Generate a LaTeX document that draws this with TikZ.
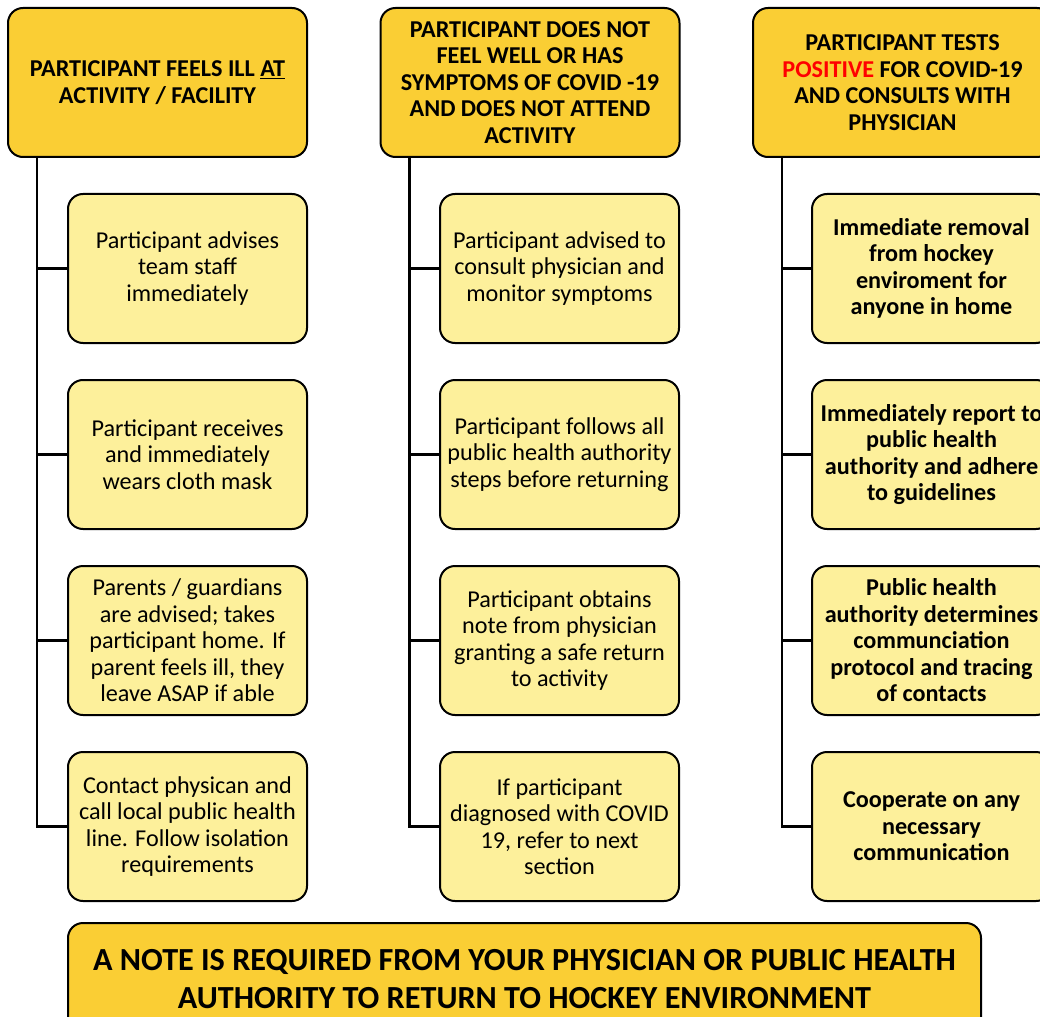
\documentclass[tikz,border=0pt]{standalone}
\usepackage{fontspec}
\setmainfont{Carlito}
\definecolor{hdrfill}{RGB}{250,206,52}
\definecolor{boxfill}{RGB}{253,240,155}
\begin{document}
\begin{tikzpicture}[x=1pt,y=-1pt,
  hdr/.style={draw=black, line width=2pt, rounded corners=15pt, fill=hdrfill,
    minimum width=299pt, minimum height=149pt, align=center, inner sep=0pt,
    font=\fontsize{24.2}{26.5}\selectfont\bfseries},
  item/.style={draw=black, line width=2pt, rounded corners=15pt, fill=boxfill,
    minimum width=239pt, minimum height=149pt, align=center, inner sep=0pt,
    font=\fontsize{24.2}{26.5}\selectfont},
  bitem/.style={item, font=\fontsize{24.2}{26.5}\selectfont\bfseries},
  note/.style={draw=black, line width=2pt, rounded corners=15pt, fill=hdrfill,
    minimum width=913pt, minimum height=112pt, align=center, inner sep=0pt,
    font=\fontsize{32.2}{38}\selectfont\bfseries},
  conn/.style={draw=black, line width=2.2pt}
]
\useasboundingbox (0,0) rectangle (1040,1016);
\clip (0,0) rectangle (1040,1016);

% Column 1
\node[hdr] (h1) at (157.5,82.5) {PARTICIPANT FEELS ILL \underline{AT}\\ACTIVITY / FACILITY};
\node[item] (a1) at (187.5,268.5) {Participant advises\\team staff\\immediately};
\node[item] (a2) at (187.5,454.5) {Participant receives\\and immediately\\wears cloth mask};
\node[item] (a3) at (187.5,640.5) {Parents / guardians\\are advised; takes\\participant home. If\\parent feels ill, they\\leave ASAP if able};
\node[item] (a4) at (187.5,826.5) {Contact physican and\\call local public health\\line. Follow isolation\\requirements};

% Column 2
\node[hdr] (h2) at (530,82.5) {PARTICIPANT DOES NOT\\FEEL WELL OR HAS\\SYMPTOMS OF COVID -19\\AND DOES NOT ATTEND\\ACTIVITY};
\node[item] (b1) at (559.5,268.5) {Participant advised to\\consult physician and\\monitor symptoms};
\node[item] (b2) at (559.5,454.5) {Participant follows all\\public health authority\\steps before returning};
\node[item] (b3) at (559.5,640.5) {Participant obtains\\note from physician\\granting a safe return\\to activity};
\node[item] (b4) at (559.5,826.5) {If participant\\diagnosed with COVID\\19, refer to next\\section};

% Column 3
\node[hdr] (h3) at (902.5,82.5) {PARTICIPANT TESTS\\\textcolor{red}{POSITIVE} FOR COVID-19\\AND CONSULTS WITH\\PHYSICIAN};
\node[bitem] (c1) at (931.5,268.5) {Immediate removal\\from hockey\\enviroment for\\anyone in home};
\node[bitem] (c2) at (931.5,454.5) {Immediately report to\\public health\\authority and adhere\\to guidelines};
\node[bitem] (c3) at (931.5,640.5) {Public health\\authority determines\\communciation\\protocol and tracing\\of contacts};
\node[bitem] (c4) at (931.5,826.5) {Cooperate on any\\necessary\\communication};

% Bottom note
\node[note] (n) at (524.5,979) {A NOTE IS REQUIRED FROM YOUR PHYSICIAN OR PUBLIC HEALTH\\AUTHORITY TO RETURN TO HOCKEY ENVIRONMENT};

% Connectors
\foreach \h/\c in {h1/a1,h1/a2,h1/a3,h1/a4,h2/b1,h2/b2,h2/b3,h2/b4,h3/c1,h3/c2,h3/c3,h3/c4}{
  \draw[conn] ([xshift=30pt]\h.south west) |- (\c.west);
}
\end{tikzpicture}
\end{document}
